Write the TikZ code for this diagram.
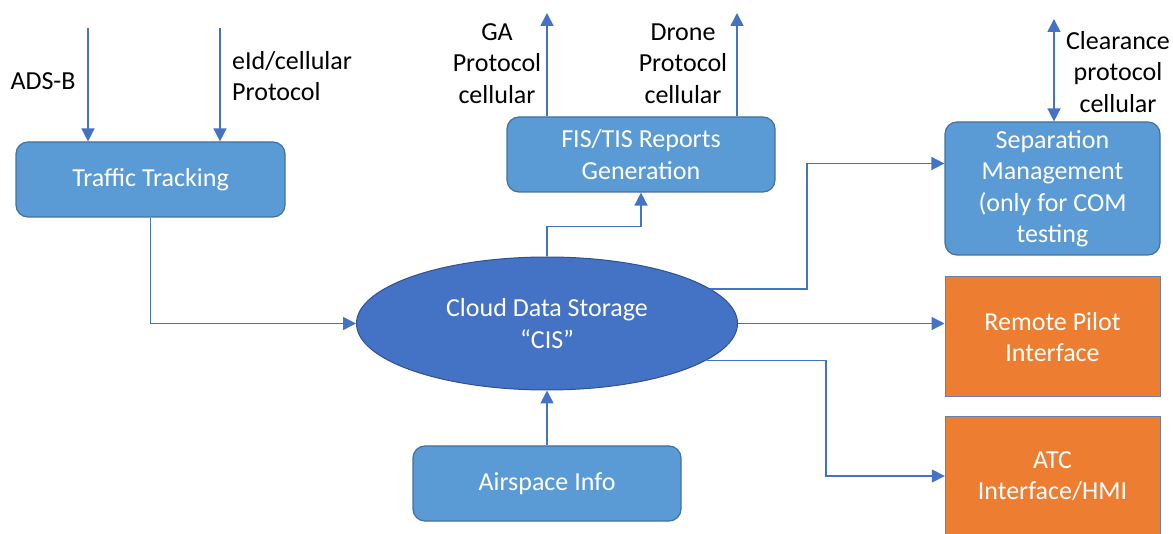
\documentclass[tikz,border=0pt]{standalone}
\usepackage{fontspec}
\setmainfont{Carlito}
\usetikzlibrary{arrows.meta,shapes.geometric,calc}
\definecolor{boxblue}{HTML}{5B9BD5}
\definecolor{boxedge}{HTML}{41719C}
\definecolor{cloudblue}{HTML}{4472C4}
\definecolor{cloudedge}{HTML}{2F528F}
\definecolor{orangefill}{HTML}{ED7D31}
\definecolor{orangeedge}{HTML}{6B7FAE}
\definecolor{linkblue}{HTML}{4472C4}
\begin{document}
\begin{tikzpicture}[x=1pt,y=-1pt,
  every node/.style={font=\fontsize{26}{31.5}\selectfont, inner sep=0pt},
  procbox/.style={draw=boxedge, fill=boxblue, line width=1.2pt, rounded corners=12pt,
    text=white, align=center},
  ifacebox/.style={draw=orangeedge, fill=orangefill, line width=1pt},
  iface/.style={text=white, align=center},
  lbl/.style={text=black, align=center},
  flow/.style={draw=linkblue, line width=1.6pt, -{Triangle[length=13pt,width=13pt]}},
  twoway/.style={draw=linkblue, line width=1.6pt,
    {Triangle[length=13pt,width=13pt]}-{Triangle[length=13pt,width=13pt]}}]

\useasboundingbox (0,0) rectangle (1173,534);

% processing blocks
\node[procbox, minimum width=269pt, minimum height=75pt] (traffic) at (150.5,179.5) {Traffic Tracking};
\node[procbox, minimum width=268pt, minimum height=75pt] (fis) at (641,154.5) {FIS/TIS Reports\\Generation};
\node[procbox, minimum width=268pt, minimum height=75pt] (airspace) at (547,483.5) {Airspace Info};
\node[procbox, minimum width=215pt, minimum height=133pt] (sep) at (1052.5,188.5)
  {Separation\\Management\\(only for COM\\testing};

% central storage
\node[ellipse, draw=cloudedge, fill=cloudblue, line width=1pt, text=white, align=center,
  minimum width=381pt, minimum height=133pt] (cis) at (547,323.5) {Cloud Data Storage\\“CIS”};

% interfaces
\node[ifacebox, iface, minimum width=215pt, minimum height=120pt] (remote) at (1052.5,337) {Remote Pilot\\Interface};
\path[ifacebox] (945,417) rectangle (1160,545);
\node[iface, minimum width=215pt, minimum height=114pt] (atc) at (1052.5,476) {ATC\\Interface/HMI};

% protocol labels
\node[lbl] (adsblbl) at (43,81) {ADS-B};
\node[lbl, anchor=west, align=left] (eidlbl) at (232,76) {eId/cellular\\Protocol};
\node[lbl] (galbl) at (497,63.5) {GA\\Protocol\\cellular};
\node[lbl] (dronelbl) at (683,63.5) {Drone\\Protocol\\cellular};
\node[lbl] (clrlbl) at (1118,72) {Clearance\\protocol\\cellular};

% free ends of the external links
\coordinate (adsbin) at (88,28);
\coordinate (eidin) at (220,28);
\coordinate (gaout) at (547,13);
\coordinate (droneout) at (737,13);
\coordinate (clrout) at (1054,19);
\coordinate (bendsep) at (807,0);
\coordinate (bendatc) at (826,0);
\coordinate (sepin) at ($(sep.west)+(0,-25)$);

% external links
\draw[flow] (adsbin) -- (adsbin |- traffic.north);
\draw[flow] (eidin) -- (eidin |- traffic.north);
\draw[flow] (gaout |- fis.north) -- (gaout);
\draw[flow] (droneout |- fis.north) -- (droneout);
\draw[twoway] (clrout) -- (clrout |- sep.north);

% internal links
\draw[flow] (traffic.south) |- (cis.west);
\draw[flow] (airspace.north) -- (cis.south);
\draw[flow] (cis.north) -- ++(0,-30) -| (fis.south);
\draw[flow] (cis.12.6) -| (bendsep |- sepin) -- (sepin);
\draw[flow] (cis.east) -- (cis.east -| remote.west);
\draw[flow] (cis.-13.5) -| (bendatc |- atc.west) -- (atc.west);
\end{tikzpicture}
\end{document}
